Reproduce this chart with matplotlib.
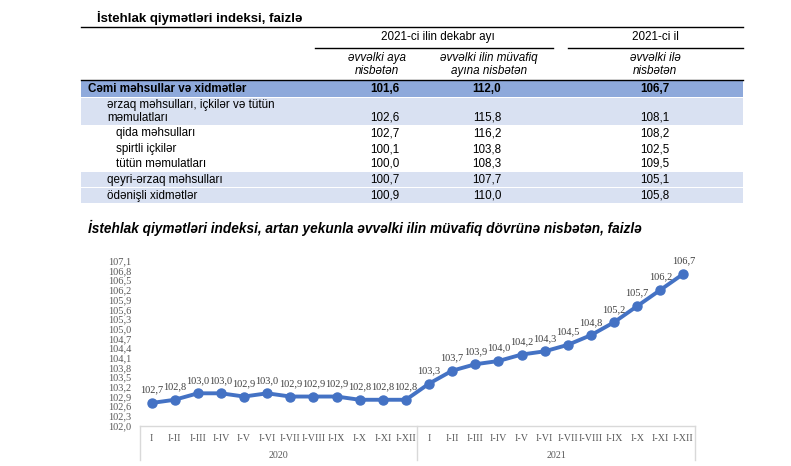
import matplotlib
matplotlib.use("Agg")
import matplotlib.pyplot as plt
from matplotlib.patches import Rectangle
import matplotlib.transforms as mtransforms

# ---------------- data ----------------
table_title = "İstehlak qiymətləri indeksi, faizlə"
row_labels = ["Cəmi məhsullar və xidmətlər",
              "ərzaq məhsulları, içkilər və tütün\nməmulatları",
              "qida məhsulları",
              "spirtli içkilər",
              "tütün məmulatları",
              "qeyri-ərzaq məhsulları",
              "ödənişli xidmətlər"]
col_prev_month = ["101,6", "102,6", "102,7", "100,1", "100,0", "100,7", "100,9"]
col_prev_year_month = ["112,0", "115,8", "116,2", "103,8", "108,3", "107,7", "110,0"]
col_prev_year = ["106,7", "108,1", "108,2", "102,5", "109,5", "105,1", "105,8"]

chart_title = ("İstehlak qiymətləri indeksi, artan yekunla əvvəlki ilin "
               "müvafiq dövrünə nisbətən, faizlə")
months = ["I", "I-II", "I-III", "I-IV", "I-V", "I-VI", "I-VII", "I-VIII",
          "I-IX", "I-X", "I-XI", "I-XII"]
years = ["2020", "2021"]
values_2020 = [102.7, 102.8, 103.0, 103.0, 102.9, 103.0, 102.9, 102.9,
               102.9, 102.8, 102.8, 102.8]
values_2021 = [103.3, 103.7, 103.9, 104.0, 104.2, 104.3, 104.5, 104.8,
               105.2, 105.7, 106.2, 106.7]
y_ticks = [102.0, 102.3, 102.6, 102.9, 103.2, 103.5, 103.8, 104.1, 104.4,
           104.7, 105.0, 105.3, 105.6, 105.9, 106.2, 106.5, 106.8, 107.1]

# ---------------- figure ----------------
W, H = 791, 466
fig = plt.figure(figsize=(W / 100, H / 100), dpi=100)
fig.patch.set_facecolor("white")

sans = ["Liberation Sans", "DejaVu Sans"]
serif = ["Liberation Serif", "DejaVu Serif"]

# table drawn in pixel coordinates on a full-figure axes
tx = fig.add_axes([0, 0, 1, 1])
tx.set_xlim(0, W)
tx.set_ylim(H, 0)
tx.axis("off")

dark = "#8EA9DB"
light = "#D9E1F2"
L, R = 81, 743
c1, c2, c3 = 385, 487, 655
fs = 8.4

tx.text(97, 18, table_title, fontsize=9.5, fontweight="bold", family=sans,
        va="center", ha="left")
tx.plot([L, R], [27, 27], color="black", lw=1.0)
tx.text(438, 37, "2021-ci ilin dekabr ayı", fontsize=fs, family=sans,
        ha="center", va="center")
tx.text(655, 37, "2021-ci il", fontsize=fs, family=sans, ha="center", va="center")
tx.plot([315, 553], [48, 48], color="black", lw=1.0)
tx.plot([568, R], [48, 48], color="black", lw=1.0)
for x, l1, l2 in [(c1 - 8, "əvvəlki aya", "nisbətən"),
                  (c2 + 2, "əvvəlki ilin müvafiq", "ayına nisbətən"),
                  (c3, "əvvəlki ilə", "nisbətən")]:
    tx.text(x, 58, l1, fontsize=fs, family=sans, style="italic",
            ha="center", va="center")
    tx.text(x, 71, l2, fontsize=fs, family=sans, style="italic",
            ha="center", va="center")

# row bands: (top, bottom, colour)
bands = [(81, 97, dark), (98, 125, light), (None, None, None), (None, None, None),
         (None, None, None), (172, 187, light), (188, 203, light)]
row_y = [89, 118, 133, 149, 164, 180, 196]
row_x = [88, 107, 116, 116, 116, 107, 107]
for i, lab in enumerate(row_labels):
    top, bot, col = bands[i]
    if col:
        tx.add_patch(Rectangle((L, top), R - L, bot - top, facecolor=col,
                               edgecolor="none", zorder=0))
    weight = "bold" if i == 0 else "normal"
    if "\n" in lab:
        a, b = lab.split("\n")
        tx.text(row_x[i], row_y[i] - 13, a, fontsize=fs, family=sans,
                ha="left", va="center")
        tx.text(row_x[i], row_y[i], b, fontsize=fs, family=sans,
                ha="left", va="center")
    else:
        tx.text(row_x[i], row_y[i], lab, fontsize=fs, family=sans,
                fontweight=weight, ha="left", va="center")
    for cx, vals in [(c1, col_prev_month), (c2, col_prev_year_month),
                     (c3, col_prev_year)]:
        tx.text(cx, row_y[i], vals[i], fontsize=fs, family=sans,
                fontweight=weight, ha="center", va="center")
tx.plot([L, R], [80, 80], color="black", lw=1.0)

tx.text(88, 228, chart_title, fontsize=9.8, family=sans, fontweight="bold",
        style="italic", ha="left", va="center")

# ---------------- chart ----------------
x_left, x_right = 140, 695
y_top, y_bot = 260.9, 425.6
ax = fig.add_axes([x_left / W, (H - y_bot) / H, (x_right - x_left) / W,
                   (y_bot - y_top) / H])
values = values_2020 + values_2021
labels = months + months
xs = list(range(len(values)))
ax.plot(xs, values, color="#4472C4", lw=2.8, marker="o", markersize=6.5,
        zorder=3, clip_on=False)
for x, v in zip(xs, values):
    ax.annotate(f"{v:.1f}".replace(".", ","), (x, v), xytext=(0, 6),
                textcoords="offset points", ha="center", va="bottom",
                fontsize=7.5, family=serif, color="#404040")
ax.set_xlim(-0.5, len(values) - 0.5)
ax.set_ylim(y_ticks[0], y_ticks[-1])
ax.set_yticks(y_ticks)
ax.set_yticklabels([f"{t:.1f}".replace(".", ",") for t in y_ticks],
                   fontsize=7.5, family=serif, color="#595959")
ax.tick_params(axis="y", length=0, pad=6)
ax.set_xticks(xs)
ax.set_xticklabels(labels, fontsize=7.2, family=serif, color="#595959")
ax.tick_params(axis="x", length=0, pad=6)
for s in ["top", "right", "left"]:
    ax.spines[s].set_visible(False)
ax.spines["bottom"].set_color("#D9D9D9")
ax.spines["bottom"].set_linewidth(1.0)
ax.patch.set_alpha(0)

trans = mtransforms.blended_transform_factory(ax.transData, ax.transAxes)
y_low = -(460 - y_bot) / (y_bot - y_top)
for xb in [-0.5, 11.5, 23.5]:
    ax.plot([xb, xb], [0, y_low], transform=trans, color="#D9D9D9", lw=1.0,
            clip_on=False)
for k, yr in enumerate(years):
    ax.text(5.5 + 12 * k, -(455 - y_bot) / (y_bot - y_top), yr,
            transform=trans, ha="center", va="center", fontsize=7.2,
            family=serif, color="#595959")

fig.savefig("out.png", dpi=100)
